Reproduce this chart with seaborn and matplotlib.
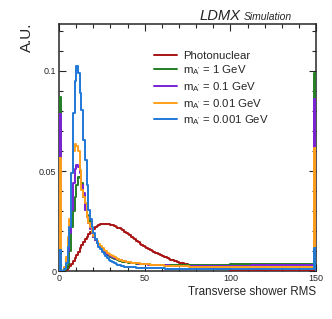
import numpy as np
import matplotlib
matplotlib.use("Agg")
import matplotlib.pyplot as plt
import seaborn as sns
from matplotlib.ticker import MultipleLocator, FuncFormatter

# bin layout: 1 unit bins on 0-100, 2 unit bins on 100-148, then 148-149, 149-150
labels = ["Photonuclear", "m$_{A'}$ = 1 GeV", "m$_{A'}$ = 0.1 GeV",
          "m$_{A'}$ = 0.01 GeV", "m$_{A'}$ = 0.001 GeV"]
colors = ["#a81414", "#237d23", "#7a22d6", "#ffa01a", "#1f78d6"]

# bins 0..39 (width 1)
pn_head = [0, 0, 0, 0.0002, 0.0008, 0.0015, 0.0025, 0.0038, 0.0053, 0.0068,
           0.0083, 0.0098, 0.0115, 0.013, 0.0145, 0.016, 0.0172, 0.0185, 0.0196, 0.0205,
           0.0213, 0.022, 0.0226, 0.023, 0.0234, 0.0236, 0.0238, 0.0238, 0.0238, 0.0236,
           0.0233, 0.023, 0.0226, 0.0222, 0.0218, 0.0214, 0.0209, 0.0204, 0.0198, 0.0192]
m1_head = [0.087, 0, 0, 0.0005, 0.0015, 0.003, 0.010, 0.022, 0.030, 0.037,
           0.043, 0.047, 0.0465, 0.044, 0.037, 0.0305, 0.028, 0.0255, 0.022, 0.019,
           0.017, 0.0155, 0.014, 0.0128, 0.0117, 0.0107, 0.0098, 0.009, 0.0083, 0.0077,
           0.0072, 0.0067, 0.0063, 0.0059, 0.0056, 0.0053, 0.005, 0.0048, 0.0046, 0.0044]
m01_head = [0.0785, 0, 0.0003, 0.0015, 0.005, 0.010, 0.019, 0.0305, 0.044, 0.051,
            0.053, 0.052, 0.049, 0.043, 0.039, 0.0305, 0.027, 0.024, 0.021, 0.019,
            0.017, 0.0155, 0.014, 0.0128, 0.0118, 0.0108, 0.010, 0.0093, 0.0087, 0.0081,
            0.0076, 0.0071, 0.0067, 0.0063, 0.006, 0.0057, 0.0054, 0.0051, 0.0049, 0.0047]
m001_head = [0.0565, 0, 0.0005, 0.002, 0.007, 0.017, 0.026, 0.049, 0.060, 0.0635,
             0.0625, 0.060, 0.0505, 0.0405, 0.037, 0.034, 0.027, 0.024, 0.022, 0.0195,
             0.0178, 0.0163, 0.015, 0.0138, 0.0127, 0.0117, 0.0108, 0.010, 0.0093, 0.0086,
             0.008, 0.0075, 0.007, 0.0066, 0.0062, 0.0058, 0.0055, 0.0052, 0.005, 0.0047]
m0001_head = [0.0105, 0, 0, 0.001, 0.004, 0.012, 0.022, 0.049, 0.079, 0.095,
              0.1025, 0.099, 0.089, 0.0805, 0.0655, 0.0555, 0.043, 0.0305, 0.026, 0.022,
              0.019, 0.016, 0.014, 0.012, 0.011, 0.0095, 0.0085, 0.0075, 0.0066, 0.0058,
              0.0052, 0.0046, 0.0041, 0.0037, 0.0033, 0.003, 0.0027, 0.0024, 0.0022, 0.002]

# bins 40..99 (width 1)
pn_mid = [0.0186, 0.018, 0.0173, 0.0166, 0.0159, 0.0152, 0.0145, 0.0138, 0.0132, 0.0126,
          0.012, 0.0115, 0.011, 0.0105, 0.0101, 0.0097, 0.0093, 0.0089, 0.0085, 0.0081,
          0.0077, 0.0073, 0.0069, 0.0065, 0.0061, 0.0058, 0.0055, 0.0052, 0.0049, 0.0046,
          0.0043, 0.0041, 0.0039, 0.0037, 0.0035, 0.0033, 0.0031, 0.0029, 0.0028, 0.0027,
          0.0025, 0.0024, 0.0023, 0.0022, 0.0021, 0.002, 0.0019, 0.0018, 0.0017, 0.0016,
          0.0015, 0.0014, 0.0013, 0.0012, 0.0012, 0.0011, 0.001, 0.001, 0.0009, 0.0009]
m1_mid = ([0.0043, 0.0042, 0.0041, 0.0040, 0.0039, 0.0038, 0.0037, 0.0036, 0.0036, 0.0035,
           0.0035, 0.0034, 0.0034, 0.0033, 0.0033, 0.0033, 0.0032, 0.0032, 0.0032, 0.0032]
          + [0.0031] * 15 + [0.0032] * 10 + [0.0033] * 15)
m01_mid = ([0.0046, 0.0044, 0.0043, 0.0041, 0.0040, 0.0039, 0.0038, 0.0037, 0.0036, 0.0035,
            0.0034, 0.0034, 0.0033, 0.0033, 0.0032, 0.0032, 0.0031, 0.0031, 0.0030, 0.0030,
            0.0030, 0.0029, 0.0029, 0.0029, 0.0028, 0.0028, 0.0028, 0.0028, 0.0028, 0.0027]
           + [0.0027] * 30)
m001_mid = ([0.0046, 0.0045, 0.0043, 0.0042, 0.0041, 0.0040, 0.0039, 0.0038, 0.0037, 0.0036,
             0.0035, 0.0034, 0.0034, 0.0033, 0.0032, 0.0032, 0.0031, 0.0030, 0.0030, 0.0029,
             0.0029, 0.0028, 0.0028, 0.0027, 0.0027, 0.0027, 0.0026, 0.0026, 0.0026, 0.0025,
             0.0025, 0.0025, 0.0024, 0.0024, 0.0024, 0.0024, 0.0023, 0.0023, 0.0023, 0.0023,
             0.0022, 0.0022, 0.0022, 0.0022, 0.0022, 0.0021, 0.0021, 0.0021, 0.0021, 0.0021,
             0.0021]
            + [0.0020] * 9)
m0001_mid = ([0.0020, 0.0020, 0.0019, 0.0019, 0.0019, 0.0018, 0.0018, 0.0018, 0.0017, 0.0017,
              0.0017, 0.0017, 0.0016, 0.0016, 0.0016, 0.0015, 0.0015, 0.0015, 0.0014, 0.0014,
              0.0014, 0.0014, 0.0013, 0.0013, 0.0013, 0.0013, 0.0012, 0.0012, 0.0012, 0.0012,
              0.0012]
             + [0.0011] * 19 + [0.0010] * 10)

# bins 100..148 (width 2)
pn_tail = [0.0008, 0.0007, 0.0007, 0.0006, 0.0006, 0.0005, 0.0005, 0.0005, 0.0004, 0.0004,
           0.0004, 0.0004] + [0.0003] * 12
m1_tail = [0.0034, 0.0034, 0.0034, 0.0035, 0.0035, 0.0035, 0.0035, 0.0036, 0.0036, 0.0036,
           0.0036, 0.0036, 0.0037, 0.0037, 0.0037, 0.0037, 0.0037, 0.0038, 0.0038, 0.0038,
           0.0038, 0.0038, 0.0038, 0.0038]
m01_tail = [0.0027, 0.0027, 0.0028, 0.0028, 0.0028, 0.0028, 0.0029, 0.0029, 0.0029, 0.0029,
            0.0029, 0.0030, 0.0030, 0.0030, 0.0030, 0.0030, 0.0030, 0.0031, 0.0031, 0.0031,
            0.0031, 0.0031, 0.0031, 0.0031]
m001_tail = [0.0019] * 24
m0001_tail = [0.0010] * 24

# bins 148-149 and 149-150 (last one holds the overflow)
pn_end = [0.0003, 0.0005]
m1_end = [0.0038, 0.099]
m01_end = [0.0031, 0.086]
m001_end = [0.0019, 0.0615]
m0001_end = [0.0010, 0.0115]

series = [pn_head + pn_mid + pn_tail + pn_end,
          m1_head + m1_mid + m1_tail + m1_end,
          m01_head + m01_mid + m01_tail + m01_end,
          m001_head + m001_mid + m001_tail + m001_end,
          m0001_head + m0001_mid + m0001_tail + m0001_end]

# empty under/overflow bins outside the range so the outline drops to zero
edges = np.r_[-1, np.arange(0, 100, 1), np.arange(100, 148, 2), 148, 149, 150, 151].astype(float)

sns.set_style("ticks")
plt.rcParams["font.family"] = ["Liberation Sans", "DejaVu Sans"]
plt.rcParams["mathtext.default"] = "regular"

fig = plt.figure(figsize=(3.32, 3.19), dpi=100)
ax = fig.add_axes([0.178, 0.150, 0.774, 0.775])

for vals, lab, c in zip(series, labels, colors):
    w = np.r_[0, vals, 0]
    assert len(w) == len(edges) - 1
    # step outline: one point per left edge, plus the final right edge
    sns.lineplot(x=edges, y=np.r_[w, w[-1]], drawstyle="steps-post", sort=False,
                 estimator=None, color=c, linewidth=1.4, label=lab, ax=ax, zorder=3)

ax.set_xlim(0, 150)
ax.set_ylim(0, 0.1235)
ax.xaxis.set_major_locator(MultipleLocator(50))
ax.xaxis.set_minor_locator(MultipleLocator(10))
ax.yaxis.set_major_locator(MultipleLocator(0.05))
ax.yaxis.set_minor_locator(MultipleLocator(0.01))
ax.yaxis.set_major_formatter(FuncFormatter(lambda v, p: "%g" % round(v, 3)))
ax.tick_params(which="both", direction="in", top=True, right=True, labelsize=6.5,
               width=0.8, pad=2)
ax.tick_params(which="major", length=5)
ax.tick_params(which="minor", length=2.8)
for s in ax.spines.values():
    s.set_linewidth(1.1)

ax.set_ylabel("")
ax.set_xlabel("Transverse shower RMS", fontsize=8.4, loc="right", labelpad=2)

ax.legend(loc="upper left", bbox_to_anchor=(0.37, 0.892), frameon=False, fontsize=8.2,
          handlelength=2.0, handletextpad=0.5, labelspacing=0.25, borderpad=0,
          borderaxespad=0)

fig.text(27 / 332, 1 - 23 / 319, "A.U.", rotation=90, ha="center", va="top", fontsize=11)
fig.text(200 / 332, 1 - 19.5 / 319, "LDMX", style="italic", fontsize=10.6, va="baseline")
fig.text(244 / 332, 1 - 19.5 / 319, "Simulation", style="italic", fontsize=7.5, va="baseline")

fig.savefig("out.png", dpi=100)
